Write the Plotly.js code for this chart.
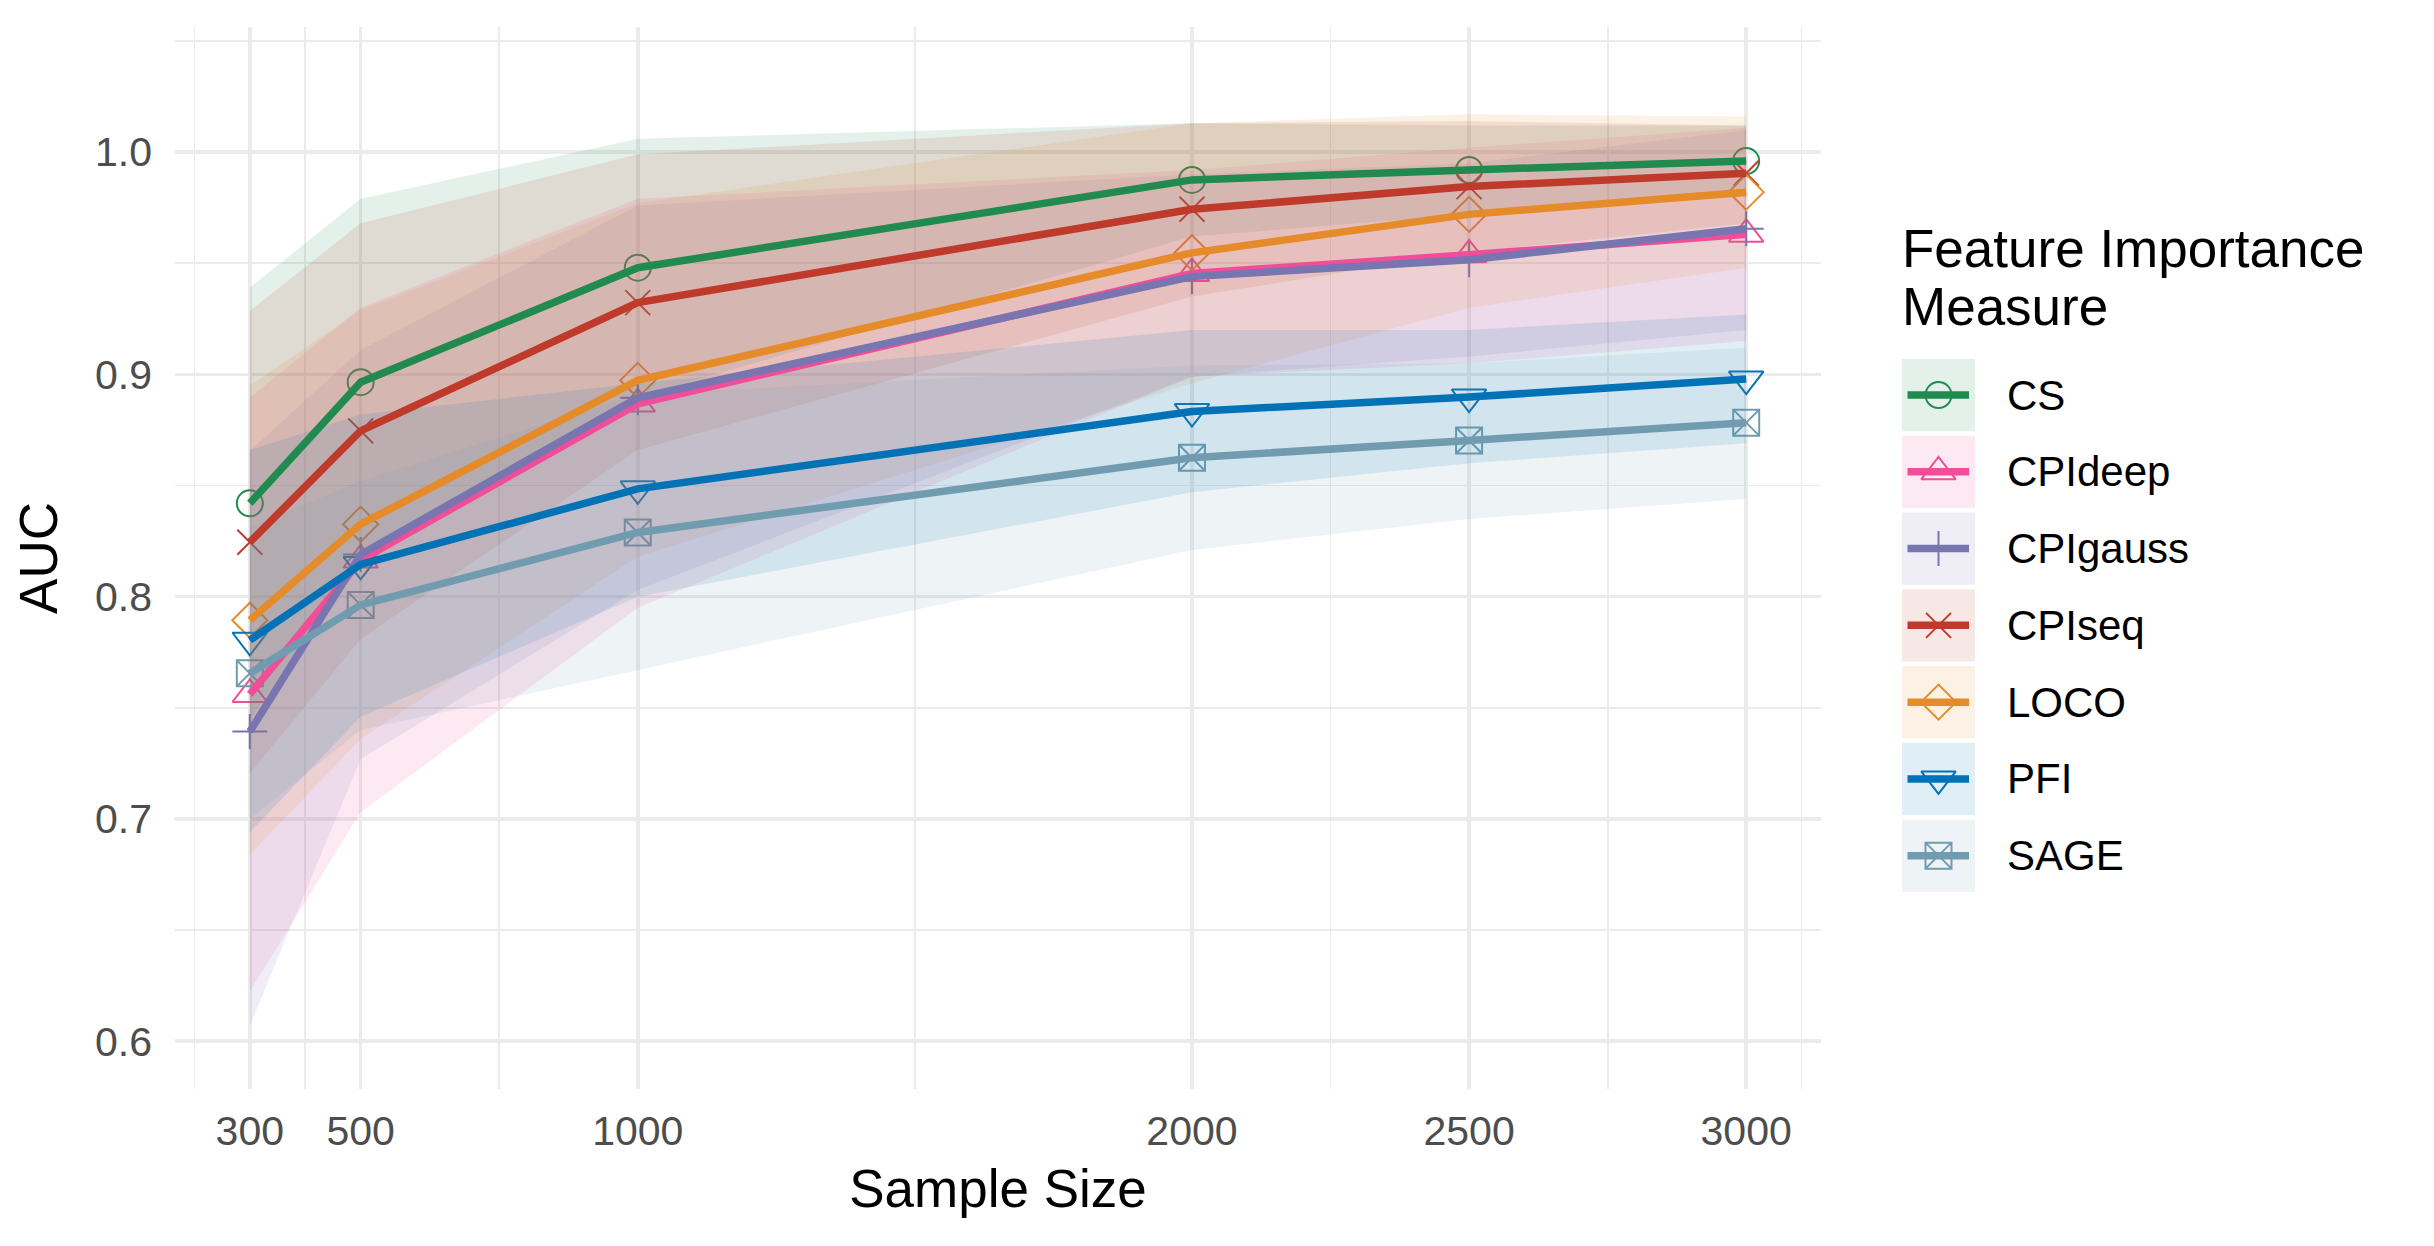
<!DOCTYPE html>
<html>
<head>
<meta charset="utf-8">
<script src="https://cdn.plot.ly/plotly-3.0.1.min.js"></script>
<style>
  html, body { margin: 0; padding: 0; background: #ffffff; }
  #chart { width: 2434px; height: 1246px; }
</style>
</head>
<body>
<div id="chart"></div>
<script>
// ---------------- DATA ----------------
const sampleSizes = [300, 500, 1000, 2000, 2500, 3000];
const xTickValues = [300, 500, 1000, 2000, 2500, 3000];
const xTickLabels = ['300', '500', '1000', '2000', '2500', '3000'];
const yTickValues = [0.6, 0.7, 0.8, 0.9, 1.0];
const yTickLabels = ['0.6', '0.7', '0.8', '0.9', '1.0'];
const seriesNames = ['CS', 'CPIdeep', 'CPIgauss', 'CPIseq', 'LOCO', 'PFI', 'SAGE'];

const csMean  = [0.842, 0.8965, 0.948, 0.9875, 0.992, 0.996];
const csLower = [0.745, 0.814, 0.890, 0.962, 0.972, 0.980];
const csUpper = [0.939, 0.979, 1.006, 1.013, 1.012, 1.012];

const cpideepMean  = [0.756, 0.8165, 0.8867, 0.9454, 0.9538, 0.9631];
const cpideepLower = [0.6225, 0.703, 0.795, 0.899, 0.905, 0.915];
const cpideepUpper = [0.8895, 0.930, 0.979, 0.992, 1.002, 1.011];

const cpigaussMean  = [0.7393, 0.819, 0.8895, 0.944, 0.9516, 0.9655];
const cpigaussLower = [0.607, 0.727, 0.803, 0.899, 0.908, 0.920];
const cpigaussUpper = [0.8656, 0.911, 0.976, 0.990, 0.995, 1.010];

const cpiseqMean  = [0.8245, 0.8746, 0.9323, 0.9743, 0.9845, 0.9905];
const cpiseqLower = [0.7205, 0.781, 0.866, 0.935, 0.955, 0.968];
const cpiseqUpper = [0.9286, 0.968, 0.999, 1.013, 1.014, 1.012];

const locoMean  = [0.7894, 0.8326, 0.8973, 0.9547, 0.972, 0.982];
const locoLower = [0.684, 0.736, 0.818, 0.896, 0.930, 0.948];
const locoUpper = [0.895, 0.929, 0.977, 1.013, 1.017, 1.016];

const pfiMean  = [0.7804, 0.8145, 0.8485, 0.8833, 0.8898, 0.8979];
const pfiLower = [0.694, 0.746, 0.800, 0.847, 0.860, 0.869];
const pfiUpper = [0.866, 0.882, 0.896, 0.920, 0.920, 0.927];

const sageMean  = [0.7655, 0.7963, 0.8289, 0.8625, 0.8703, 0.8783];
const sageLower = [0.700, 0.740, 0.767, 0.821, 0.835, 0.844];
const sageUpper = [0.831, 0.852, 0.891, 0.904, 0.905, 0.912];

// ---------------- STYLE ----------------
const styles = {
  'CS':       { rgb: [32, 138, 79],  symbol: 'circle-open',        size: 26 },
  'CPIdeep':  { rgb: [240, 78, 152], symbol: 'triangle-up-open',   size: 30 },
  'CPIgauss': { rgb: [120, 117, 177], symbol: 'cross-thin-open',   size: 25 },
  'CPIseq':   { rgb: [191, 58, 43],  symbol: 'x-thin-open',        size: 25 },
  'LOCO':     { rgb: [229, 139, 42], symbol: 'diamond-open',       size: 27 },
  'PFI':      { rgb: [0, 114, 181],  symbol: 'triangle-down-open', size: 30 },
  'SAGE':     { rgb: [113, 156, 176], symbol: 'square-x-open',     size: 26 }
};
const dataBySeries = {
  'CS':       [csMean, csLower, csUpper],
  'CPIdeep':  [cpideepMean, cpideepLower, cpideepUpper],
  'CPIgauss': [cpigaussMean, cpigaussLower, cpigaussUpper],
  'CPIseq':   [cpiseqMean, cpiseqLower, cpiseqUpper],
  'LOCO':     [locoMean, locoLower, locoUpper],
  'PFI':      [pfiMean, pfiLower, pfiUpper],
  'SAGE':     [sageMean, sageLower, sageUpper]
};
const RIBBON_ALPHA = 0.12;
const rgb = (c) => 'rgb(' + c.join(',') + ')';
const rgba = (c, a) => 'rgba(' + c.join(',') + ',' + a + ')';
const FONT = 'Liberation Sans, Arial, Helvetica, sans-serif';

const traces = [];
// points (drawn first, ribbons lie over them as in the reference)
seriesNames.forEach(name => {
  const [m] = dataBySeries[name];
  const s = styles[name];
  traces.push({
    type: 'scatter', mode: 'markers', xaxis: 'x', yaxis: 'y',
    x: sampleSizes, y: m, name: name,
    marker: { symbol: s.symbol, size: s.size, color: rgb(s.rgb), line: { color: rgb(s.rgb), width: 2 } },
    showlegend: false
  });
});
// ribbons
seriesNames.forEach(name => {
  const [m, lo, up] = dataBySeries[name];
  traces.push({
    type: 'scatter', mode: 'lines', xaxis: 'x', yaxis: 'y',
    x: sampleSizes.concat(sampleSizes.slice().reverse()),
    y: up.concat(lo.slice().reverse()),
    fill: 'toself', fillcolor: rgba(styles[name].rgb, RIBBON_ALPHA),
    line: { width: 0 }, hoverinfo: 'skip', showlegend: false
  });
});
// lines
seriesNames.forEach(name => {
  const [m] = dataBySeries[name];
  traces.push({
    type: 'scatter', mode: 'lines', xaxis: 'x', yaxis: 'y',
    x: sampleSizes, y: m, name: name,
    line: { color: rgb(styles[name].rgb), width: 7.5 },
    showlegend: false
  });
});

// ---------------- custom legend (pixel-coordinate helper axes) ----------------
const W = 2434, H = 1246;
const mL = 175, mR = 0, mT = 27, mB = 156.5;
const plotW = W - mL - mR;
const panelRight = 1821;
const legX0 = 1880;
const keyLeft = 1902, keyRight = 1975, keyH = 72.3;
const rowTop0 = 395.25, rowPitch = 76.8;
const labelX = 2004.5;

const shapes = [];
const annotations = [];
seriesNames.forEach((name, i) => {
  const yc = rowTop0 + rowPitch * i;
  const s = styles[name];
  shapes.push({
    type: 'rect', xref: 'x2', yref: 'y2', layer: 'below',
    x0: keyLeft, x1: keyRight, y0: yc - keyH / 2, y1: yc + keyH / 2,
    fillcolor: rgba(s.rgb, RIBBON_ALPHA), line: { width: 0 }
  });
  traces.push({
    type: 'scatter', mode: 'markers', xaxis: 'x2', yaxis: 'y2',
    x: [(keyLeft + keyRight) / 2], y: [yc],
    marker: { symbol: s.symbol, size: s.size, color: rgb(s.rgb), line: { color: rgb(s.rgb), width: 2 } },
    hoverinfo: 'skip', showlegend: false
  });
  traces.push({
    type: 'scatter', mode: 'lines', xaxis: 'x2', yaxis: 'y2',
    x: [keyLeft + 5.5, keyRight - 6], y: [yc, yc],
    line: { color: rgb(s.rgb), width: 7.5 }, hoverinfo: 'skip', showlegend: false
  });
  annotations.push({
    xref: 'x2', yref: 'y2', x: labelX, y: yc, xanchor: 'left', yanchor: 'middle',
    text: name, showarrow: false, font: { family: FONT, size: 42, color: '#000000' }
  });
});
annotations.push({
  xref: 'x2', yref: 'y2', x: keyLeft - 2, y: 248.7, xanchor: 'left', yanchor: 'middle',
  text: 'Feature Importance', showarrow: false, font: { family: FONT, size: 53, color: '#000000' }
});
annotations.push({
  xref: 'x2', yref: 'y2', x: keyLeft - 2, y: 306.3, xanchor: 'left', yanchor: 'middle',
  text: 'Measure', showarrow: false, font: { family: FONT, size: 53, color: '#000000' }
});

const layout = {
  width: W, height: H,
  margin: { l: mL, r: mR, t: mT, b: mB, pad: 0 },
  paper_bgcolor: '#ffffff', plot_bgcolor: 'rgba(0,0,0,0)',
  showlegend: false,
  font: { family: FONT },
  xaxis: {
    domain: [0, (panelRight - mL) / plotW],
    range: [165, 3135], autorange: false,
    tickmode: 'array', tickvals: xTickValues, ticktext: xTickLabels,
    ticks: '', showline: false, zeroline: false,
    showgrid: true, gridcolor: '#EBEBEB', gridwidth: 3.6,
    minor: { tickmode: 'array', tickvals: [200, 400, 750, 1500, 2250, 2750, 3100],
             showgrid: true, gridcolor: '#EBEBEB', gridwidth: 1.8, ticks: '' },
    tickfont: { family: FONT, size: 41, color: '#4D4D4D' },
    ticklabelstandoff: 14,
    title: { text: 'Sample Size', font: { family: FONT, size: 53, color: '#000000' }, standoff: 16 },
    automargin: false
  },
  yaxis: {
    range: [0.5785, 1.0563], autorange: false,
    tickmode: 'array', tickvals: yTickValues, ticktext: yTickLabels,
    ticks: '', showline: false, zeroline: false,
    showgrid: true, gridcolor: '#EBEBEB', gridwidth: 3.6,
    minor: { tickmode: 'array', tickvals: [0.65, 0.75, 0.85, 0.95, 1.05],
             showgrid: true, gridcolor: '#EBEBEB', gridwidth: 1.8, ticks: '' },
    tickfont: { family: FONT, size: 41, color: '#4D4D4D' },
    ticklabelstandoff: 22,
    title: { text: 'AUC', font: { family: FONT, size: 53, color: '#000000' }, standoff: 20 },
    automargin: false
  },
  xaxis2: {
    domain: [(legX0 - mL) / plotW, 1], range: [legX0, W], autorange: false,
    visible: false, fixedrange: true, anchor: 'y2'
  },
  yaxis2: {
    domain: [0, 1], range: [H - mB, mT], autorange: false,
    visible: false, fixedrange: true, anchor: 'x2'
  },
  shapes: shapes,
  annotations: annotations
};

Plotly.newPlot('chart', traces, layout, { displayModeBar: false, staticPlot: true });
</script>
</body>
</html>
